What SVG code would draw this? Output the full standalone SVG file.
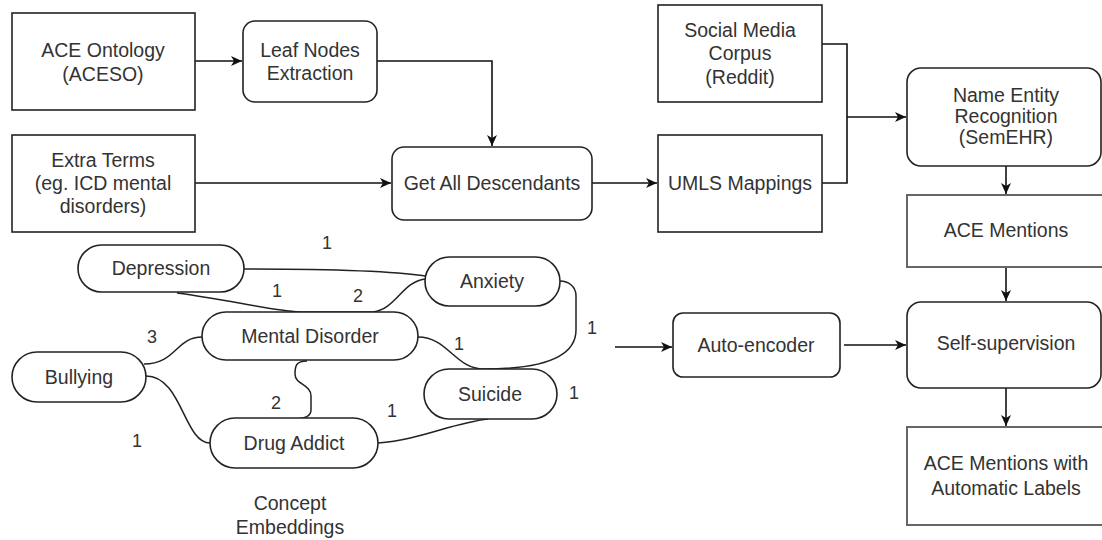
<svg xmlns="http://www.w3.org/2000/svg" width="1102" height="540" viewBox="0 0 1102 540">
<style>
.box{fill:#fff;stroke:#222;stroke-width:1.6}
.gbox{fill:#fff;stroke:#666;stroke-width:2}
.t{font-family:"Liberation Sans",Arial,sans-serif;font-size:19.5px;fill:#333;text-anchor:middle;dominant-baseline:central}
.n{font-family:"Liberation Sans",Arial,sans-serif;font-size:18px;fill:#333;text-anchor:middle;dominant-baseline:central}
.c{fill:none;stroke:#111;stroke-width:1.6}
.e{fill:none;stroke:#222;stroke-width:1.5}
</style>
<defs>
<marker id="ah" markerUnits="userSpaceOnUse" markerWidth="12" markerHeight="12" refX="11" refY="6" orient="auto">
<path d="M0,1 L11,6 L0,11 L3,6 Z" fill="#111"/>
</marker>
</defs>
<rect width="1102" height="540" fill="#fff"/>
<g id="connectors">
<path class="c" d="M195,61 H242" marker-end="url(#ah)"/>
<path class="c" d="M377,61 H492 V146" marker-end="url(#ah)"/>
<path class="c" d="M195,183 H391" marker-end="url(#ah)"/>
<path class="c" d="M592,183 H657" marker-end="url(#ah)"/>
<path class="c" d="M822,44 H847 V183 H822"/>
<path class="c" d="M847,117 H906" marker-end="url(#ah)"/>
<path class="c" d="M1006,166 V194" marker-end="url(#ah)"/>
<path class="c" d="M1006,267 V301" marker-end="url(#ah)"/>
<path class="c" d="M1006,388 V426" marker-end="url(#ah)"/>
<path class="c" d="M615,347 H672" marker-end="url(#ah)"/>
<path class="c" d="M844,345 H906" marker-end="url(#ah)"/>
<path class="e" d="M244,269 C320,269 385,270 426,276"/>
<path class="e" d="M177,293 C230,300 268,310 300,312 L372,312 C396,310 402,281 426,279"/>
<path class="e" d="M418,337 C448,337 455,369 484,369"/>
<path class="e" d="M484,369 C540,369 576,358 576,330 L576,296 C576,286 568,281 560,281"/>
<path class="e" d="M307,361 C296,361 295,366 295,374 C295,385 311,384 311,396 L311,410 C311,418 301,419 293,419"/>
<path class="e" d="M144,364 C176,364 176,337 202,337"/>
<path class="e" d="M146,376 C182,376 184,443 210,443"/>
<path class="e" d="M378,443 C420,440 452,423 488,419"/>
</g>
<g id="ace-ontology"><rect class="box" x="12" y="13" width="183" height="97"/><text class="t" x="103" y="50">ACE Ontology</text><text class="t" x="103" y="74">(ACESO)</text></g>
<g id="leaf-nodes"><rect class="box" x="243" y="21" width="134" height="81" rx="12"/><text class="t" x="310" y="50">Leaf Nodes</text><text class="t" x="310" y="73">Extraction</text></g>
<g id="extra-terms"><rect class="box" x="12" y="135" width="183" height="97"/><text class="t" x="103" y="160">Extra Terms</text><text class="t" x="103" y="183">(eg. ICD mental</text><text class="t" x="103" y="206">disorders)</text></g>
<g id="get-all"><rect class="box" x="392" y="147" width="200" height="73" rx="12"/><text class="t" x="492" y="183">Get All Descendants</text></g>
<g id="social-media"><rect class="box" x="658" y="5" width="164" height="97"/><text class="t" x="740" y="30">Social Media</text><text class="t" x="740" y="53">Corpus</text><text class="t" x="740" y="77">(Reddit)</text></g>
<g id="umls"><rect class="box" x="658" y="135" width="164" height="97"/><text class="t" x="740" y="183">UMLS Mappings</text></g>
<g id="ner"><rect class="box" x="907" y="68" width="194" height="98" rx="14"/><text class="t" x="1006" y="95">Name Entity</text><text class="t" x="1006" y="116">Recognition</text><text class="t" x="1006" y="137">(SemEHR)</text></g>
<g id="ace-mentions"><rect class="gbox" x="907" y="195" width="198" height="72"/><text class="t" x="1006" y="230">ACE Mentions</text></g>
<g id="self-supervision"><rect class="box" x="907" y="302" width="194" height="86" rx="14"/><text class="t" x="1006" y="343">Self-supervision</text></g>
<g id="ace-labels"><rect class="gbox" x="907" y="427" width="198" height="98"/><text class="t" x="1006" y="463">ACE Mentions with</text><text class="t" x="1006" y="488">Automatic Labels</text></g>
<g id="auto-encoder"><rect class="box" x="673" y="313" width="167" height="64" rx="10"/><text class="t" x="756" y="345">Auto-encoder</text></g>
<g id="depression"><rect class="box" x="78" y="245" width="166" height="47" rx="23.5"/><text class="t" x="161" y="268">Depression</text></g>
<g id="mental-disorder"><rect class="box" x="202" y="312" width="216" height="48" rx="24"/><text class="t" x="310" y="336">Mental Disorder</text></g>
<g id="bullying"><rect class="box" x="12" y="352" width="134" height="50" rx="25"/><text class="t" x="79" y="377">Bullying</text></g>
<g id="drug-addict"><rect class="box" x="210" y="418" width="168" height="50" rx="25"/><text class="t" x="294" y="443">Drug Addict</text></g>
<g id="anxiety"><rect class="box" x="425" y="257" width="135" height="49" rx="24.5"/><text class="t" x="492" y="281">Anxiety</text></g>
<g id="suicide"><rect class="box" x="424" y="369" width="133" height="50" rx="25"/><text class="t" x="490" y="394">Suicide</text></g>
<g id="labels">
<text class="n" x="327" y="243">1</text>
<text class="n" x="277" y="291">1</text>
<text class="n" x="358" y="296">2</text>
<text class="n" x="152" y="337">3</text>
<text class="n" x="276" y="403">2</text>
<text class="n" x="137" y="441">1</text>
<text class="n" x="392" y="411">1</text>
<text class="n" x="459" y="344">1</text>
<text class="n" x="592" y="328">1</text>
<text class="n" x="574" y="393">1</text>
<text class="t" x="290" y="503">Concept</text>
<text class="t" x="290" y="527">Embeddings</text>
</g>
</svg>
